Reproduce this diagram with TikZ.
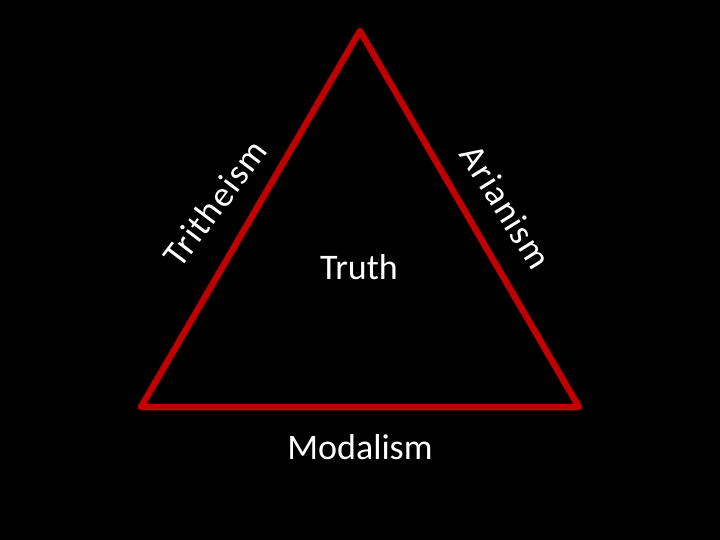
\documentclass[tikz,border=0pt]{standalone}
\usepackage{fontspec}
\setmainfont{Carlito}
\definecolor{tri}{HTML}{C00000}
\begin{document}
\begin{tikzpicture}[x=1pt,y=-1pt,
  lbl/.style={text=white,font=\fontsize{36}{42}\selectfont,inner sep=0pt},
  sidelbl/.style={text=white,font=\fontsize{36}{42}\selectfont\addfontfeatures{LetterSpace=4},inner sep=0pt},
  edge/.style={draw=tri,line width=6.5pt,line join=round}]
\fill[black] (0,0) rectangle (720,540);
\useasboundingbox (0,0) rectangle (720,540);
\coordinate (top) at (360,31);
\coordinate (bl) at (141,407);
\coordinate (br) at (579,407);
\draw[edge] (top) -- (bl) -- (br) -- cycle;
\node[lbl] (truth) at (359,267) {Truth};
\node[lbl] (modalism) at (360,447) {Modalism};
\node[sidelbl,rotate=53] (tritheism) at (215,203) {Tritheism};
\node[sidelbl,rotate=-58] (arianism) at (506,207) {Arianism};
\end{tikzpicture}
\end{document}
